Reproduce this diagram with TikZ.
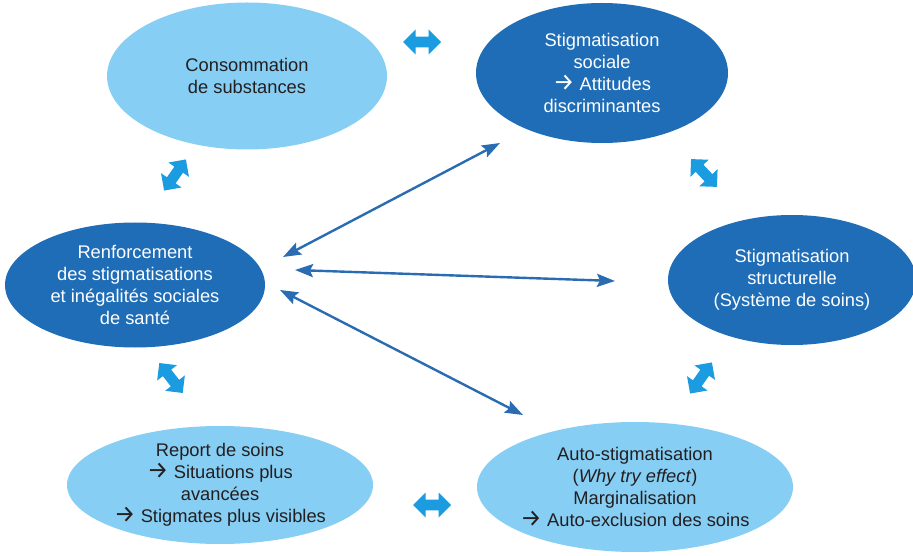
\documentclass[tikz,border=0pt]{standalone}
\usepackage{fontspec}
\setmainfont{Liberation Sans}
\newfontfamily\arrowfont{Fira Sans}
\usepackage{tikz}
\usetikzlibrary{shapes, arrows, arrows.meta, positioning, calc}
\definecolor{lightell}{HTML}{86CEF3}
\definecolor{darkell}{HTML}{1F6DB6}
\definecolor{blockblue}{HTML}{1B9BE0}
\definecolor{lineblue}{HTML}{2A6CB2}
\definecolor{textgray}{HTML}{231F20}
\newcommand{\rarr}{{\arrowfont\fontsize{24}{22}\selectfont →}}
\tikzset{
   mylight/.style={ellipse, fill=lightell, text=textgray, align=center, inner xsep=-15pt, inner ysep=0pt},
   mydark/.style={ellipse, fill=darkell, text=white, align=center, inner xsep=-15pt, inner ysep=0pt},
   mydouble/.style={double arrow, fill=blockblue, minimum height=38pt, minimum width=25pt,
      inner xsep=0pt, inner ysep=5pt},
   mylink/.style={lineblue, line width=2.4pt, {Stealth[length=18pt,width=13pt,inset=3pt]}-{Stealth[length=18pt,width=13pt,inset=3pt]}}
}

\begin{document}
\begin{tikzpicture}[x=1pt, y=1pt, font=\fontsize{18.3}{22}\selectfont]
      \useasboundingbox (0,0) rectangle (913,555);
      % ellipses
      \node (conso)   [mylight, minimum width=280pt, minimum height=147pt] at (247,479) {Consommation\\de substances};
      \node (sociale) [mydark,  minimum width=252pt, minimum height=140pt] at (602,482) {Stigmatisation\\sociale\\\rarr{} Attitudes\\discriminantes};
      \node (renfo)   [mydark,  minimum width=260pt, minimum height=125pt] at (135,270) {Renforcement\\des stigmatisations\\et inégalités sociales\\de santé};
      \node (struct)  [mydark,  minimum width=248pt, minimum height=130pt] at (792,275) {Stigmatisation\\structurelle\\(Système de soins)};
      \node (report)  [mylight, minimum width=306pt, minimum height=118pt] at (220,70) {Report de soins\\\rarr{} Situations plus\\avancées\\\rarr{} Stigmates plus visibles};
      \node (auto)    [mylight, minimum width=316pt, minimum height=130pt] at (635,68) {Auto-stigmatisation\\(\textit{Why try effect})\\Marginalisation\\\rarr{} Auto-exclusion des soins};
      % block arrows
      \node (dbl1) [mydouble] at (422,513) {};
      \node (dbl2) [mydouble, rotate=55] at (175,380) {};
      \node (dbl3) [mydouble, rotate=-47] at (704,382) {};
      \node (dbl4) [mydouble, rotate=-52] at (171,177) {};
      \node (dbl5) [mydouble, rotate=55] at (701,177) {};
      \node (dbl6) [mydouble] at (432,50) {};
      % thin arrows
      \coordinate (r1) at (283,298);
      \coordinate (r2) at (295,285);
      \coordinate (r3) at (280,265);
      \coordinate (s1) at (500,412);
      \coordinate (t1) at (615,274);
      \coordinate (a1) at (523,140);
      \draw[mylink] (r1) -- (s1);
      \draw[mylink] (r2) -- (t1);
      \draw[mylink] (r3) -- (a1);
\end{tikzpicture}
\end{document}
